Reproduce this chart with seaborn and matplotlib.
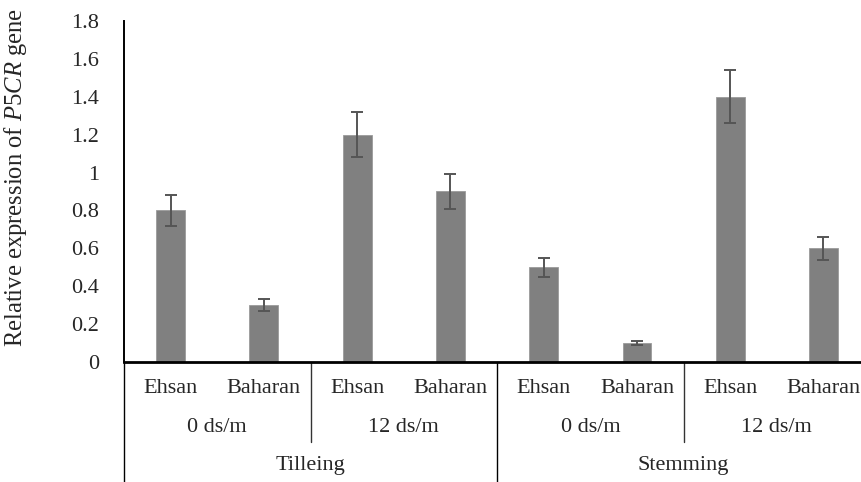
import matplotlib
matplotlib.use("Agg")
import matplotlib.pyplot as plt
import matplotlib.transforms as mtransforms
from matplotlib.lines import Line2D
import seaborn as sns
import pandas as pd

# Data
stages = ["Tilleing", "Stemming"]
salinity = ["0 ds/m", "12 ds/m"]
cultivars = ["Ehsan", "Baharan"]
expression = [0.80, 0.30, 1.20, 0.90, 0.50, 0.10, 1.40, 0.60]
errors = [0.08, 0.03, 0.12, 0.09, 0.05, 0.01, 0.14, 0.06]
y_ticks = [0, 0.2, 0.4, 0.6, 0.8, 1.0, 1.2, 1.4, 1.6, 1.8]
y_tick_labels = ["0", "0.2", "0.4", "0.6", "0.8", "1", "1.2", "1.4", "1.6", "1.8"]

rows = []
for s in stages:
    for c in salinity:
        for v in cultivars:
            rows.append((s, c, v))
df = pd.DataFrame(rows, columns=["stage", "salinity", "cultivar"])
df["expression"] = expression
df["error"] = errors
df["key"] = [f"{i}" for i in range(len(df))]

sns.set_theme(style="white")
plt.rcParams["font.family"] = ["Liberation Serif", "DejaVu Serif"]
plt.rcParams["mathtext.fontset"] = "custom"
plt.rcParams["mathtext.rm"] = "Liberation Serif"
plt.rcParams["mathtext.it"] = "Liberation Serif:italic"

fig = plt.figure(figsize=(8.62, 4.82), dpi=100)
ax = fig.add_axes([0.1439, 0.249, 0.8655, 0.7075])

sns.barplot(data=df, x="key", y="expression", color="#808080", saturation=1,
            width=0.31, edgecolor="#9a9a9a", linewidth=0.6, errorbar=None, ax=ax)
ax.errorbar(range(len(df)), df["expression"], yerr=df["error"], fmt="none",
            ecolor="#555555", elinewidth=1.4, capsize=4, capthick=1.4)

ax.set_ylim(0, 1.8)
ax.set_xlim(-0.5, len(df) - 0.5)
ax.set_yticks(y_ticks)
ax.set_yticklabels(y_tick_labels, fontsize=16)
ax.tick_params(axis="y", length=0, pad=18)
ax.set_xticks([])
ax.set_xlabel("")
ax.set_ylabel("Relative expression of $\\mathit{P5CR}$ gene", fontsize=17.7)
ax.yaxis.set_label_coords(-0.127, 0.541)

sns.despine(ax=ax, top=True, right=True)
ax.spines["left"].set_linewidth(1.4)
ax.spines["bottom"].set_linewidth(2.0)
ax.spines["left"].set_color("black")
ax.spines["bottom"].set_color("black")

# Hierarchical category labels beneath the axis
trans = mtransforms.blended_transform_factory(ax.transData, ax.transAxes)
row1, row2, row3 = -0.079, -0.1935, -0.305
for i, v in enumerate(df["cultivar"]):
    ax.text(i, row1, v, transform=trans, ha="center", va="center", fontsize=16)

n_sal = len(cultivars)
n_stage = len(salinity) * len(cultivars)
for j in range(len(stages) * len(salinity)):
    centre = j * n_sal + (n_sal - 1) / 2
    ax.text(centre, row2, salinity[j % len(salinity)], transform=trans,
            ha="center", va="center", fontsize=16)
for k, s in enumerate(stages):
    centre = k * n_stage + (n_stage - 1) / 2
    ax.text(centre, row3, s, transform=trans, ha="center", va="center", fontsize=16)

# Separators between groups
for j in range(len(stages) * len(salinity) + 1):
    x = j * n_sal - 0.5
    if j % len(salinity) == 0:
        ax.add_line(Line2D([x, x], [0, -0.352], transform=trans, color="black",
                           lw=1.0, clip_on=False))
    else:
        ax.add_line(Line2D([x, x], [0, -0.2346], transform=trans, color="#333333",
                           lw=1.0, clip_on=False))

fig.savefig("out.png", dpi=100)
